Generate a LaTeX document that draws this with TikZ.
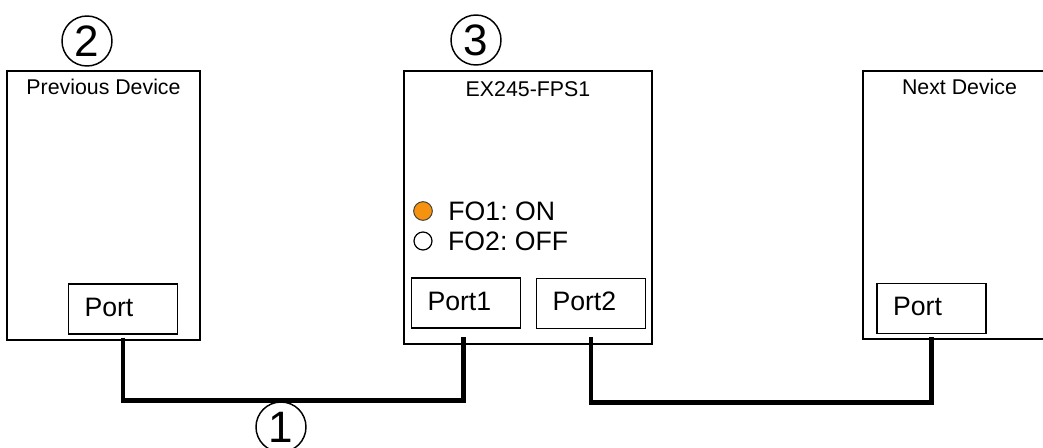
\documentclass[tikz,border=0pt]{standalone}
\usepackage{fontspec}
\setmainfont{Liberation Sans}
\usepackage{xcolor}
\usepackage{tikz}
\usetikzlibrary{positioning,calc}
\frenchspacing
\definecolor{ledon}{HTML}{F5920F}
\definecolor{ledrim}{HTML}{3A3A3A}
\tikzset{
  device/.style={draw, line width=1.1pt, minimum width=144.75pt, minimum height=201.75pt,
                 inner sep=0pt},
  devtitle/.style={inner sep=0pt, font=\fontsize{16}{19}\selectfont},
  portbox/.style={draw, line width=0.9pt, minimum width=81.75pt, minimum height=37.5pt,
                  inner xsep=12pt, text width=57.75pt, align=left, text depth=0.28em,
                  font=\fontsize{20}{24}\selectfont},
  led/.style={circle, draw=ledrim, line width=0.7pt, minimum size=14pt, inner sep=0pt},
  ledtext/.style={inner sep=0pt, font=\fontsize{20}{24}\selectfont},
  cable/.style={line width=3.6pt, draw=black},
  callout/.style={circle, draw, line width=1.1pt, minimum size=37.5pt, inner sep=0pt},
  calloutno/.style={inner sep=0pt, font=\fontsize{33}{38}\selectfont}
}
\begin{document}
\begin{tikzpicture}[x=0.75pt,y=-0.75pt]
  \useasboundingbox (0,0) rectangle (1043,447);

  \node[device] (prev) at (103.5,205.5) {};
  \node[device, minimum width=186pt, minimum height=204.75pt] (fps) at (528,207.5) {};
  \node[device, minimum height=201pt] (next) at (959.5,205) {};

  \node[devtitle, below=6.75pt of prev.north] (prevtitle) {Previous Device};
  \node[devtitle, below=8.5pt of fps.north] (fpstitle) {EX245-FPS1};
  \node[devtitle, below=6.75pt of next.north] (nexttitle) {Next Device};

  \node[portbox] (prevport) at (123,309) {Port};
  \node[portbox] (port1) at (466,303) {Port1};
  \node[portbox] (port2) at (591,303.5) {Port2};
  \node[portbox] (nextport) at (931.5,308.5) {Port};

  \node[led, fill=ledon] (fo1led) at (423,211) {};
  \node[led, draw=black, line width=0.9pt, fill=white, minimum size=13.5pt] (fo2led) at (423,241) {};
  \node[ledtext, right=11.5pt of fo1led] (fo1text) {FO1: ON};
  \node[ledtext, right=11.5pt of fo2led] (fo2text) {FO2: OFF};

  \draw[cable] ([yshift=-2.25pt]prevport.south) -- ++(0,63) -| ([xshift=-2pt,yshift=-6pt]port1.south);
  \draw[cable] ([yshift=-6pt]port2.south) -- ++(0,65) -| ([yshift=-2.25pt]nextport.south);

  \node[callout] (cable1ring) at (281,427) {};
  \node[calloutno] (cable1no) at (cable1ring.center) {1};
  \node[callout] (prevring) at (87,41) {};
  \node[calloutno] (prevno) at (prevring.center) {2};
  \node[callout] (fpsring) at (476,40) {};
  \node[calloutno] (fpsno) at (fpsring.center) {3};
\end{tikzpicture}
\end{document}
